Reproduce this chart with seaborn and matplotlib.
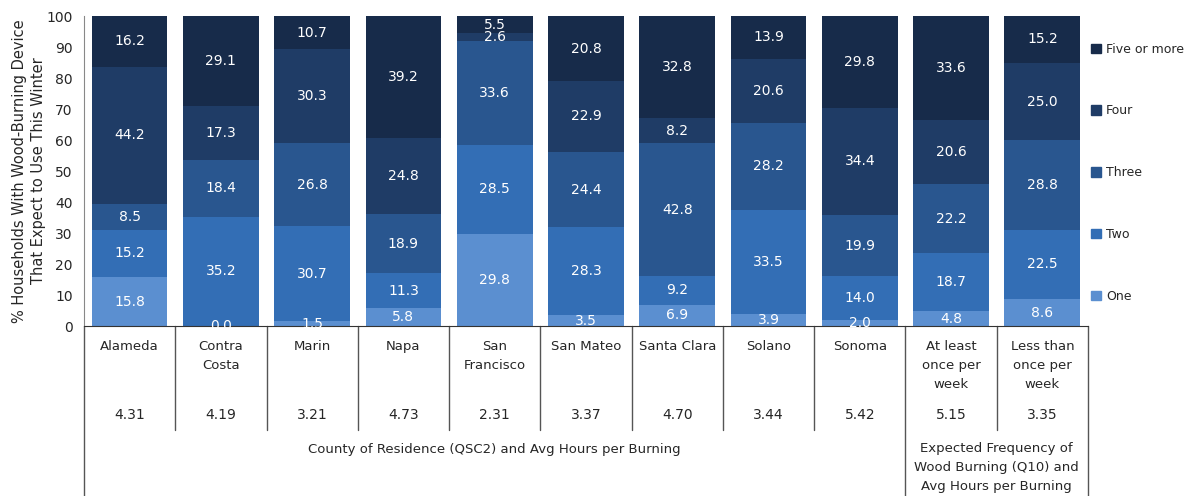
import numpy as np
import pandas as pd
import matplotlib
matplotlib.use("Agg")
import matplotlib.pyplot as plt
import matplotlib.patches as mpatches
import seaborn as sns

# -----------------------------------------
# DATA
# -----------------------------------------
categories = ["Alameda", "Contra\nCosta", "Marin", "Napa", "San\nFrancisco",
              "San Mateo", "Santa Clara", "Solano", "Sonoma",
              "At least\nonce per\nweek", "Less than\nonce per\nweek"]
avg_hours = ["4.31", "4.19", "3.21", "4.73", "2.31", "3.37", "4.70",
             "3.44", "5.42", "5.15", "3.35"]

series_names = ["One", "Two", "Three", "Four", "Five or more"]
one = [15.8, 0.0, 1.5, 5.8, 29.8, 3.5, 6.9, 3.9, 2.0, 4.8, 8.6]
two = [15.2, 35.2, 30.7, 11.3, 28.5, 28.3, 9.2, 33.5, 14.0, 18.7, 22.5]
three = [8.5, 18.4, 26.8, 18.9, 33.6, 24.4, 42.8, 28.2, 19.9, 22.2, 28.8]
four = [44.2, 17.3, 30.3, 24.8, 2.6, 22.9, 8.2, 20.6, 34.4, 20.6, 25.0]
five_plus = [16.2, 29.1, 10.7, 39.2, 5.5, 20.8, 32.8, 13.9, 29.8, 33.6, 15.2]

group_labels = ["County of Residence (QSC2) and Avg Hours per Burning",
                "Expected Frequency of\nWood Burning (Q10) and\nAvg Hours per Burning"]

colors = ["#5b8fd0", "#336eb5", "#29568f", "#1f3c66", "#172b4a"]

df = pd.DataFrame({"cat": categories, "One": one, "Two": two, "Three": three,
                   "Four": four, "Five or more": five_plus})

# -----------------------------------------
# PLOT
# -----------------------------------------
sns.set_style("white")
plt.rcParams["font.family"] = ["DejaVu Sans"]

fig = plt.figure(figsize=(11.96, 4.96), dpi=100)
ax = fig.add_axes([0.0702, 0.3427, 0.8395, 0.625])

bottom = np.zeros(len(categories))
for name, col in zip(series_names, colors):
    vals = df[name].values
    sns.barplot(x=df["cat"], y=vals, bottom=bottom, color=col, width=0.83,
                saturation=1, ax=ax, linewidth=0)
    for i, v in enumerate(vals):
        ax.text(i, bottom[i] + v / 2, f"{v:.1f}", ha="center", va="center",
                color="white", fontsize=10)
    bottom = bottom + vals

ax.set_xlim(-0.5, len(categories) - 0.5)
ax.set_ylim(0, 100)
ax.set_yticks(range(0, 101, 10))
ax.tick_params(axis="y", length=0, labelsize=10, pad=8)
ax.set_xticks([])
ax.set_xlabel("")
ax.set_ylabel("% Households With Wood-Burning Device\nThat Expect to Use This Winter",
              fontsize=10.5, labelpad=0, linespacing=1.4)

for s in ["top", "right"]:
    ax.spines[s].set_visible(False)
ax.spines["left"].set_color("#888888")
ax.spines["bottom"].set_color("#333333")

# table under the chart
trans = ax.get_xaxis_transform()
for i in range(len(categories) + 1):
    x = i - 0.5
    y_end = -0.55 if i in (0, 9, 11) else -0.335
    ax.plot([x, x], [0, y_end], color="#555555", lw=1, transform=trans,
            clip_on=False)

for i, (c, h) in enumerate(zip(categories, avg_hours)):
    ax.text(i, -0.046, c, ha="center", va="top", fontsize=9.5, linespacing=1.6,
            transform=trans)
    ax.text(i, -0.287, h, ha="center", va="center", fontsize=10,
            transform=trans)

ax.text(4.0, -0.397, group_labels[0], ha="center", va="center", fontsize=9.5,
        transform=trans)
ax.text(9.5, -0.373, group_labels[1], ha="center", va="top", fontsize=9.5,
        linespacing=1.6, transform=trans)

# legend
handles = [mpatches.Patch(color=c, label=n) for n, c in zip(series_names, colors)]
fig.legend(handles=handles[::-1], loc="upper left",
           bbox_to_anchor=(0.912, 0.914), frameon=False, fontsize=9,
           handlelength=0.8, handleheight=0.8, handletextpad=0.4,
           labelspacing=3.9, borderpad=0, borderaxespad=0)

plt.savefig("out.png", dpi=100)
